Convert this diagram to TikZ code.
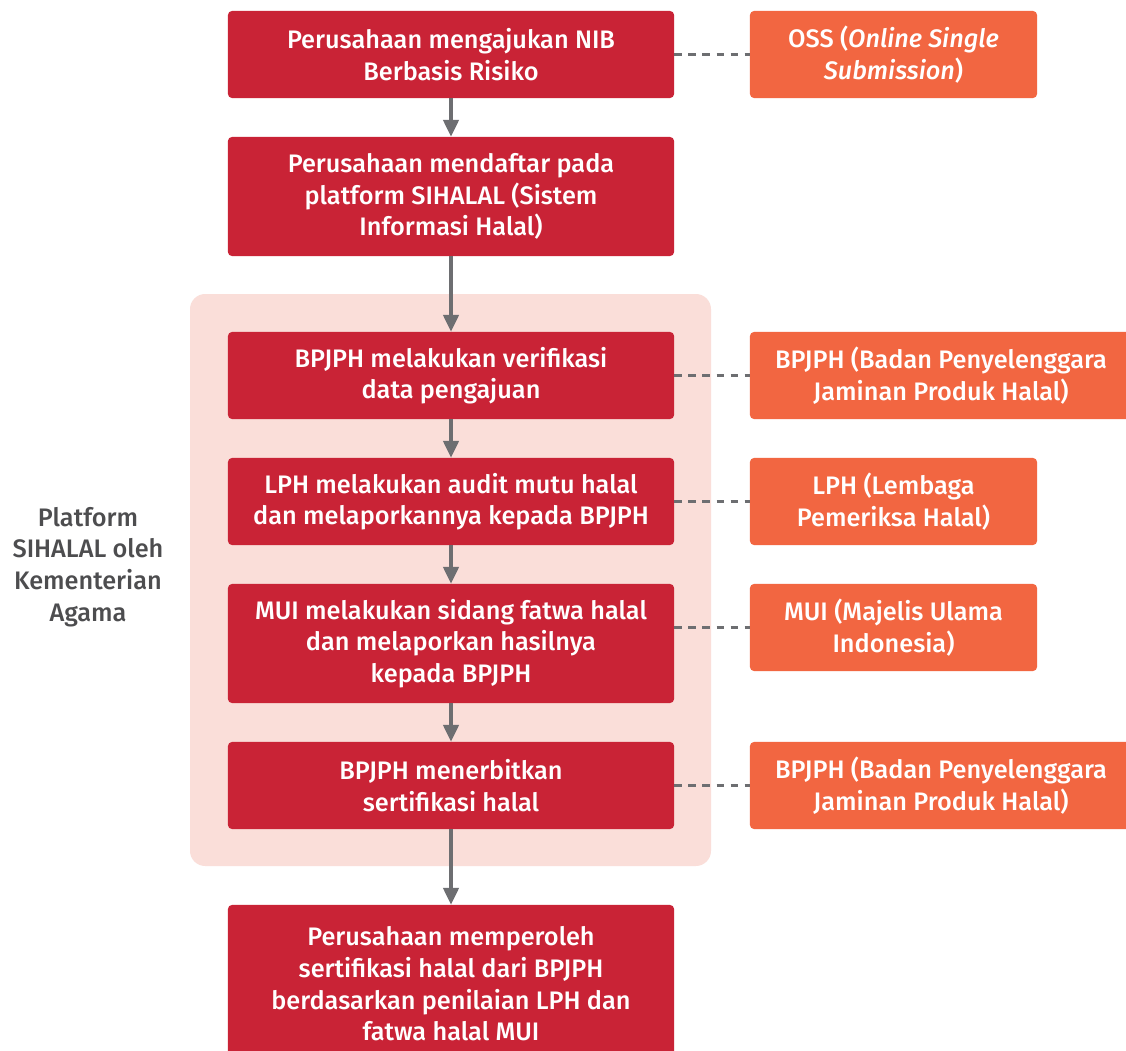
\documentclass[tikz,border=0pt]{standalone}
\usepackage{fontspec}
\setmainfont{Fira Sans}[BoldFont={* Medium},BoldItalicFont={* Medium Italic}]
\usetikzlibrary{arrows.meta}
\definecolor{halalred}{HTML}{C92336}
\definecolor{ossorange}{HTML}{F26641}
\definecolor{panelpink}{HTML}{FADED9}
\definecolor{linegray}{HTML}{6D6E71}
\definecolor{labelgray}{HTML}{4D4D4F}
\tikzset{
  stepbox/.style={rectangle, rounded corners=0.1cm, fill=halalred, text=white,
    font=\bfseries\fontsize{18}{22.5}\selectfont, align=center, inner sep=0pt,
    minimum width=11.15cm},
  agencybox/.style={rectangle, rounded corners=0.1cm, fill=ossorange, text=white,
    font=\bfseries\fontsize{18}{22.5}\selectfont, align=center, inner sep=0pt,
    minimum width=7.175cm, minimum height=2.175cm},
  flow/.style={draw=linegray, line width=2.2pt, -{Triangle[width=11pt,length=12pt]}},
  link/.style={draw=linegray, line width=1.8pt, dash pattern=on 5.5pt off 4.5pt}
}

\begin{document}
\begin{tikzpicture}[x=0.025cm, y=-0.025cm]
\clip (0,0) rectangle (1126,1051);
\fill[white] (0,0) rectangle (1126,1051);
% background panel
\fill[panelpink, rounded corners=0.38cm] (190,294) rectangle (711,866);
\node[font=\bfseries\fontsize{18}{22.5}\selectfont, text=labelgray, align=center] (platform) at (88,567)
  {Platform\\SIHALAL oleh\\Kementerian\\Agama};

% main steps
\node[stepbox, minimum height=2.175cm] (1) at (451,54.5) {Perusahaan mengajukan NIB\\Berbasis Risiko};
\node[stepbox, minimum height=2.975cm] (2) at (451,196.5) {Perusahaan mendaftar pada\\platform SIHALAL (Sistem\\Informasi Halal)};
\node[stepbox, minimum height=2.175cm] (3) at (451,375.5) {BPJPH melakukan verifikasi\\data pengajuan};
\node[stepbox, minimum height=2.175cm] (4) at (451,501.5) {LPH melakukan audit mutu halal\\dan melaporkannya kepada BPJPH};
\node[stepbox, minimum height=2.975cm] (5) at (451,643.5) {MUI melakukan sidang fatwa halal\\dan melaporkan hasilnya\\kepada BPJPH};
\node[stepbox, minimum height=2.175cm] (6) at (451,785.5) {BPJPH menerbitkan\\sertifikasi halal};
\node[stepbox, minimum height=3.95cm] (7) at (451,984) {Perusahaan memperoleh\\sertifikasi halal dari BPJPH\\berdasarkan penilaian LPH dan\\fatwa halal MUI};

% agencies
\node[agencybox] (oss) at (893.5,54.5) {OSS (\textit{Online Single}\\\textit{Submission})};
\node[agencybox, minimum width=9.55cm] (bpjph1) at (941,375.5) {BPJPH (Badan Penyelenggara\\Jaminan Produk Halal)};
\node[agencybox] (lph) at (893.5,501.5) {LPH (Lembaga\\Pemeriksa Halal)};
\node[agencybox] (mui) at (893.5,627.5) {MUI (Majelis Ulama\\Indonesia)};
\node[agencybox, minimum width=9.55cm] (bpjph2) at (941,785.5) {BPJPH (Badan Penyelenggara\\Jaminan Produk Halal)};

\draw[flow] (1) to (2);
\draw[flow] (2) to (3);
\draw[flow] (3) to (4);
\draw[flow] (4) to (5);
\draw[flow] (5) to (6);
\draw[flow] (6) to (7);

\draw[link] (1.east) to (oss.west);
\draw[link] (3.east) to (bpjph1.west);
\draw[link] (4.east) to (lph.west);
\draw[link] (mui.west -| 5.east) to (mui.west);
\draw[link] (6.east) to (bpjph2.west);
\end{tikzpicture}
\end{document}
